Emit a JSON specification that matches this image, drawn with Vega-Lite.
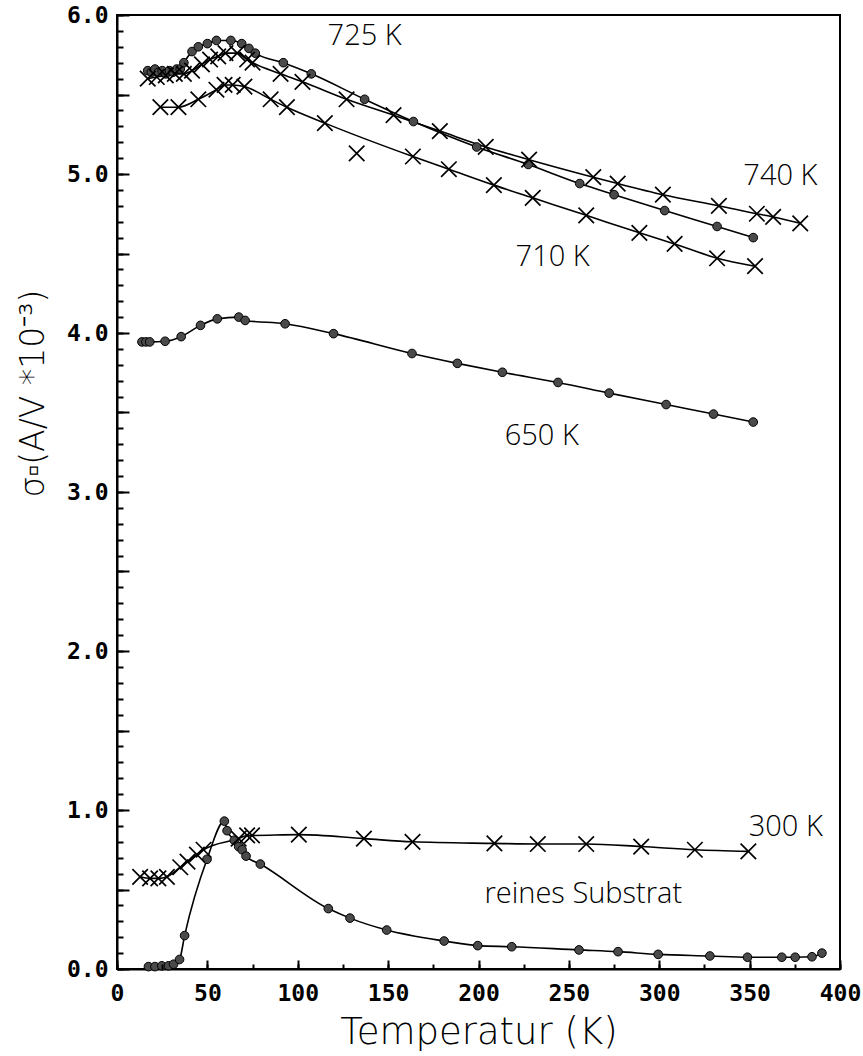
{
  "$schema": "https://vega.github.io/schema/vega-lite/v6.json",
  "width": 723,
  "height": 954,
  "autosize": {"type": "none"},
  "padding": {"left": 117, "top": 15, "right": 23, "bottom": 87},
  "background": "white",
  "config": {
    "view": {"stroke": "black", "strokeWidth": 2},
    "axis": {"grid": false, "domainColor": "black", "domainWidth": 2, "tickColor": "black", "tickWidth": 2, "labelColor": "black", "titleColor": "black", "labelOverlap": false, "labelBound": false, "labelFlush": false}
  },
  "resolve": {"axis": {"x": "independent", "y": "independent"}},
  "datasets": {
    "meas": [
      {"series": "725 K", "marker": "dot", "fit": true, "T": 17, "sigma": 5.65},
      {"series": "725 K", "marker": "dot", "fit": true, "T": 19, "sigma": 5.64},
      {"series": "725 K", "marker": "dot", "fit": true, "T": 21, "sigma": 5.66},
      {"series": "725 K", "marker": "dot", "fit": true, "T": 23, "sigma": 5.64},
      {"series": "725 K", "marker": "dot", "fit": true, "T": 25, "sigma": 5.65},
      {"series": "725 K", "marker": "dot", "fit": true, "T": 27, "sigma": 5.63},
      {"series": "725 K", "marker": "dot", "fit": true, "T": 29, "sigma": 5.65},
      {"series": "725 K", "marker": "dot", "fit": true, "T": 31, "sigma": 5.64},
      {"series": "725 K", "marker": "dot", "fit": true, "T": 33, "sigma": 5.66},
      {"series": "725 K", "marker": "dot", "fit": true, "T": 35, "sigma": 5.66},
      {"series": "725 K", "marker": "dot", "fit": true, "T": 37, "sigma": 5.70},
      {"series": "725 K", "marker": "dot", "fit": true, "T": 41.5, "sigma": 5.77},
      {"series": "725 K", "marker": "dot", "fit": true, "T": 45, "sigma": 5.80},
      {"series": "725 K", "marker": "dot", "fit": true, "T": 50, "sigma": 5.82},
      {"series": "725 K", "marker": "dot", "fit": true, "T": 55, "sigma": 5.84},
      {"series": "725 K", "marker": "dot", "fit": true, "T": 63, "sigma": 5.84},
      {"series": "725 K", "marker": "dot", "fit": true, "T": 69, "sigma": 5.82},
      {"series": "725 K", "marker": "dot", "fit": true, "T": 73, "sigma": 5.79},
      {"series": "725 K", "marker": "dot", "fit": true, "T": 76.5, "sigma": 5.76},
      {"series": "725 K", "marker": "dot", "fit": true, "T": 92, "sigma": 5.70},
      {"series": "725 K", "marker": "dot", "fit": true, "T": 107.5, "sigma": 5.63},
      {"series": "725 K", "marker": "dot", "fit": true, "T": 137, "sigma": 5.47},
      {"series": "725 K", "marker": "dot", "fit": true, "T": 164, "sigma": 5.33},
      {"series": "725 K", "marker": "dot", "fit": true, "T": 199, "sigma": 5.17},
      {"series": "725 K", "marker": "dot", "fit": true, "T": 227.5, "sigma": 5.06},
      {"series": "725 K", "marker": "dot", "fit": true, "T": 256, "sigma": 4.94},
      {"series": "725 K", "marker": "dot", "fit": true, "T": 275, "sigma": 4.87},
      {"series": "725 K", "marker": "dot", "fit": true, "T": 303, "sigma": 4.77},
      {"series": "725 K", "marker": "dot", "fit": true, "T": 332, "sigma": 4.67},
      {"series": "725 K", "marker": "dot", "fit": true, "T": 352, "sigma": 4.60},

      {"series": "740 K", "marker": "x", "fit": true, "T": 17, "sigma": 5.60},
      {"series": "740 K", "marker": "x", "fit": true, "T": 22, "sigma": 5.61},
      {"series": "740 K", "marker": "x", "fit": true, "T": 27, "sigma": 5.62},
      {"series": "740 K", "marker": "x", "fit": true, "T": 32, "sigma": 5.63},
      {"series": "740 K", "marker": "x", "fit": true, "T": 37, "sigma": 5.63},
      {"series": "740 K", "marker": "x", "fit": true, "T": 41.5, "sigma": 5.65},
      {"series": "740 K", "marker": "x", "fit": true, "T": 47, "sigma": 5.69},
      {"series": "740 K", "marker": "x", "fit": true, "T": 51.5, "sigma": 5.72},
      {"series": "740 K", "marker": "x", "fit": true, "T": 56, "sigma": 5.74},
      {"series": "740 K", "marker": "x", "fit": true, "T": 60, "sigma": 5.76},
      {"series": "740 K", "marker": "x", "fit": true, "T": 66.5, "sigma": 5.76},
      {"series": "740 K", "marker": "x", "fit": true, "T": 72, "sigma": 5.72},
      {"series": "740 K", "marker": "x", "fit": true, "T": 75, "sigma": 5.70},
      {"series": "740 K", "marker": "x", "fit": true, "T": 90.5, "sigma": 5.63},
      {"series": "740 K", "marker": "x", "fit": true, "T": 102.6, "sigma": 5.58},
      {"series": "740 K", "marker": "x", "fit": true, "T": 127, "sigma": 5.47},
      {"series": "740 K", "marker": "x", "fit": true, "T": 153, "sigma": 5.37},
      {"series": "740 K", "marker": "x", "fit": true, "T": 178.6, "sigma": 5.27},
      {"series": "740 K", "marker": "x", "fit": true, "T": 204, "sigma": 5.17},
      {"series": "740 K", "marker": "x", "fit": true, "T": 228, "sigma": 5.09},
      {"series": "740 K", "marker": "x", "fit": true, "T": 263.5, "sigma": 4.98},
      {"series": "740 K", "marker": "x", "fit": true, "T": 277, "sigma": 4.94},
      {"series": "740 K", "marker": "x", "fit": true, "T": 302, "sigma": 4.87},
      {"series": "740 K", "marker": "x", "fit": true, "T": 333, "sigma": 4.80},
      {"series": "740 K", "marker": "x", "fit": true, "T": 354, "sigma": 4.75},
      {"series": "740 K", "marker": "x", "fit": true, "T": 363, "sigma": 4.73},
      {"series": "740 K", "marker": "x", "fit": true, "T": 378, "sigma": 4.69},

      {"series": "710 K", "marker": "x", "fit": true, "T": 24, "sigma": 5.42},
      {"series": "710 K", "marker": "x", "fit": true, "T": 34, "sigma": 5.42},
      {"series": "710 K", "marker": "x", "fit": true, "T": 45, "sigma": 5.47},
      {"series": "710 K", "marker": "x", "fit": true, "T": 55, "sigma": 5.53},
      {"series": "710 K", "marker": "x", "fit": true, "T": 59.5, "sigma": 5.56},
      {"series": "710 K", "marker": "x", "fit": true, "T": 64, "sigma": 5.56},
      {"series": "710 K", "marker": "x", "fit": true, "T": 70.5, "sigma": 5.55},
      {"series": "710 K", "marker": "x", "fit": true, "T": 85, "sigma": 5.47},
      {"series": "710 K", "marker": "x", "fit": true, "T": 94, "sigma": 5.42},
      {"series": "710 K", "marker": "x", "fit": true, "T": 115, "sigma": 5.32},
      {"series": "710 K", "marker": "x", "fit": false, "T": 132.6, "sigma": 5.13},
      {"series": "710 K", "marker": "x", "fit": true, "T": 163.7, "sigma": 5.11},
      {"series": "710 K", "marker": "x", "fit": true, "T": 183.6, "sigma": 5.03},
      {"series": "710 K", "marker": "x", "fit": true, "T": 208.5, "sigma": 4.93},
      {"series": "710 K", "marker": "x", "fit": true, "T": 230, "sigma": 4.85},
      {"series": "710 K", "marker": "x", "fit": true, "T": 259.6, "sigma": 4.74},
      {"series": "710 K", "marker": "x", "fit": true, "T": 289, "sigma": 4.63},
      {"series": "710 K", "marker": "x", "fit": true, "T": 308.5, "sigma": 4.56},
      {"series": "710 K", "marker": "x", "fit": true, "T": 332, "sigma": 4.47},
      {"series": "710 K", "marker": "x", "fit": true, "T": 353, "sigma": 4.42},

      {"series": "650 K", "marker": "dot", "fit": true, "T": 13.8, "sigma": 3.944},
      {"series": "650 K", "marker": "dot", "fit": true, "T": 16, "sigma": 3.944},
      {"series": "650 K", "marker": "dot", "fit": true, "T": 18.1, "sigma": 3.944},
      {"series": "650 K", "marker": "dot", "fit": true, "T": 26.6, "sigma": 3.948},
      {"series": "650 K", "marker": "dot", "fit": true, "T": 35.5, "sigma": 3.977},
      {"series": "650 K", "marker": "dot", "fit": true, "T": 46.2, "sigma": 4.048},
      {"series": "650 K", "marker": "dot", "fit": true, "T": 55.5, "sigma": 4.089},
      {"series": "650 K", "marker": "dot", "fit": true, "T": 67.4, "sigma": 4.10},
      {"series": "650 K", "marker": "dot", "fit": true, "T": 70.9, "sigma": 4.079},
      {"series": "650 K", "marker": "dot", "fit": true, "T": 93, "sigma": 4.058},
      {"series": "650 K", "marker": "dot", "fit": true, "T": 119.8, "sigma": 3.996},
      {"series": "650 K", "marker": "dot", "fit": true, "T": 163.2, "sigma": 3.871},
      {"series": "650 K", "marker": "dot", "fit": true, "T": 188.3, "sigma": 3.809},
      {"series": "650 K", "marker": "dot", "fit": true, "T": 213.2, "sigma": 3.753},
      {"series": "650 K", "marker": "dot", "fit": true, "T": 244, "sigma": 3.689},
      {"series": "650 K", "marker": "dot", "fit": true, "T": 272.3, "sigma": 3.622},
      {"series": "650 K", "marker": "dot", "fit": true, "T": 303.8, "sigma": 3.55},
      {"series": "650 K", "marker": "dot", "fit": true, "T": 330, "sigma": 3.49},
      {"series": "650 K", "marker": "dot", "fit": true, "T": 352, "sigma": 3.44},

      {"series": "300 K", "marker": "x", "fit": true, "T": 12.8, "sigma": 0.58},
      {"series": "300 K", "marker": "x", "fit": true, "T": 18.3, "sigma": 0.57},
      {"series": "300 K", "marker": "x", "fit": true, "T": 22.9, "sigma": 0.57},
      {"series": "300 K", "marker": "x", "fit": true, "T": 27.6, "sigma": 0.58},
      {"series": "300 K", "marker": "x", "fit": true, "T": 35, "sigma": 0.64},
      {"series": "300 K", "marker": "x", "fit": true, "T": 39, "sigma": 0.675},
      {"series": "300 K", "marker": "x", "fit": true, "T": 44.2, "sigma": 0.72},
      {"series": "300 K", "marker": "x", "fit": true, "T": 47.9, "sigma": 0.75},
      {"series": "300 K", "marker": "x", "fit": true, "T": 67.3, "sigma": 0.82},
      {"series": "300 K", "marker": "x", "fit": true, "T": 72, "sigma": 0.84},
      {"series": "300 K", "marker": "x", "fit": true, "T": 74.7, "sigma": 0.84},
      {"series": "300 K", "marker": "x", "fit": true, "T": 100.6, "sigma": 0.845},
      {"series": "300 K", "marker": "x", "fit": true, "T": 136.6, "sigma": 0.82},
      {"series": "300 K", "marker": "x", "fit": true, "T": 163.5, "sigma": 0.80},
      {"series": "300 K", "marker": "x", "fit": true, "T": 208.8, "sigma": 0.79},
      {"series": "300 K", "marker": "x", "fit": true, "T": 232.8, "sigma": 0.786},
      {"series": "300 K", "marker": "x", "fit": true, "T": 259.6, "sigma": 0.786},
      {"series": "300 K", "marker": "x", "fit": true, "T": 290, "sigma": 0.77},
      {"series": "300 K", "marker": "x", "fit": true, "T": 319.7, "sigma": 0.75},
      {"series": "300 K", "marker": "x", "fit": true, "T": 349.3, "sigma": 0.74},

      {"series": "Substrat", "marker": "dot", "fit": true, "T": 17.4, "sigma": 0.015},
      {"series": "Substrat", "marker": "dot", "fit": true, "T": 21, "sigma": 0.015},
      {"series": "Substrat", "marker": "dot", "fit": true, "T": 24.8, "sigma": 0.02},
      {"series": "Substrat", "marker": "dot", "fit": true, "T": 28.5, "sigma": 0.02},
      {"series": "Substrat", "marker": "dot", "fit": true, "T": 31.3, "sigma": 0.03},
      {"series": "Substrat", "marker": "dot", "fit": true, "T": 34.6, "sigma": 0.06},
      {"series": "Substrat", "marker": "dot", "fit": true, "T": 37.4, "sigma": 0.21},
      {"series": "Substrat", "marker": "dot", "fit": true, "T": 49.8, "sigma": 0.69},
      {"series": "Substrat", "marker": "dot", "fit": true, "T": 59.4, "sigma": 0.93},
      {"series": "Substrat", "marker": "dot", "fit": true, "T": 60.9, "sigma": 0.87},
      {"series": "Substrat", "marker": "dot", "fit": true, "T": 64.9, "sigma": 0.81},
      {"series": "Substrat", "marker": "dot", "fit": true, "T": 67.3, "sigma": 0.77},
      {"series": "Substrat", "marker": "dot", "fit": true, "T": 69.2, "sigma": 0.75},
      {"series": "Substrat", "marker": "dot", "fit": true, "T": 71.4, "sigma": 0.71},
      {"series": "Substrat", "marker": "dot", "fit": true, "T": 79.3, "sigma": 0.66},
      {"series": "Substrat", "marker": "dot", "fit": true, "T": 116.9, "sigma": 0.38},
      {"series": "Substrat", "marker": "dot", "fit": true, "T": 128.9, "sigma": 0.32},
      {"series": "Substrat", "marker": "dot", "fit": true, "T": 149.2, "sigma": 0.245},
      {"series": "Substrat", "marker": "dot", "fit": true, "T": 181, "sigma": 0.176},
      {"series": "Substrat", "marker": "dot", "fit": true, "T": 199.6, "sigma": 0.147},
      {"series": "Substrat", "marker": "dot", "fit": true, "T": 218.4, "sigma": 0.14},
      {"series": "Substrat", "marker": "dot", "fit": true, "T": 255.6, "sigma": 0.12},
      {"series": "Substrat", "marker": "dot", "fit": true, "T": 277.2, "sigma": 0.109},
      {"series": "Substrat", "marker": "dot", "fit": true, "T": 299.4, "sigma": 0.092},
      {"series": "Substrat", "marker": "dot", "fit": true, "T": 328, "sigma": 0.082},
      {"series": "Substrat", "marker": "dot", "fit": true, "T": 348.8, "sigma": 0.074},
      {"series": "Substrat", "marker": "dot", "fit": true, "T": 367.8, "sigma": 0.074},
      {"series": "Substrat", "marker": "dot", "fit": true, "T": 375.2, "sigma": 0.074},
      {"series": "Substrat", "marker": "dot", "fit": true, "T": 384.5, "sigma": 0.077},
      {"series": "Substrat", "marker": "dot", "fit": true, "T": 390, "sigma": 0.10}
    ],
    "notes": [
      {"label": "725 K", "T": 137, "sigma": 5.87},
      {"label": "740 K", "T": 367, "sigma": 4.99},
      {"label": "710 K", "T": 241, "sigma": 4.48},
      {"label": "650 K", "T": 235, "sigma": 3.35},
      {"label": "300 K", "T": 370, "sigma": 0.89},
      {"label": "reines Substrat", "T": 258, "sigma": 0.47}
    ]
  },
  "layer": [
    {
      "data": {"name": "meas"},
      "transform": [{"filter": "datum.fit"}],
      "mark": {"type": "line", "interpolate": "monotone", "color": "black", "strokeWidth": 1.6},
      "encoding": {
        "x": {
          "field": "T",
          "type": "quantitative",
          "scale": {"domain": [0, 400], "nice": false, "zero": false},
          "axis": {
            "orient": "bottom",
            "values": [0, 50, 100, 150, 200, 250, 300, 350, 400],
            "ticks": false,
            "labelPadding": 13,
            "labelFont": "DejaVu Sans Mono",
            "labelFontSize": 23,
            "labelFontWeight": "bold",
            "title": "Temperatur (K)",
            "titleFont": "DejaVu Sans",
            "titleFontSize": 37,
            "titleFontWeight": 200,
            "titleBaseline": "middle",
            "titleY": 63
          }
        },
        "y": {
          "field": "sigma",
          "type": "quantitative",
          "scale": {"domain": [0, 6], "nice": false, "zero": false},
          "axis": {
            "orient": "left",
            "values": [0, 1, 2, 3, 4, 5, 6],
            "format": ".1f",
            "ticks": false,
            "labelPadding": 9,
            "labelFont": "DejaVu Sans Mono",
            "labelFontSize": 23,
            "labelFontWeight": "bold",
            "title": "σ▫(A/V *10⁻³)",
            "titleFont": "DejaVu Sans",
            "titleFontSize": 33,
            "titleFontWeight": 200,
            "titleBaseline": "middle",
            "titleAlign": "center",
            "titleX": -84,
            "titleY": 378
          }
        },
        "detail": {"field": "series"}
      }
    },
    {
      "data": {"name": "meas"},
      "transform": [{"filter": "datum.marker === 'dot'"}],
      "mark": {"type": "point", "shape": "circle", "filled": true, "fill": "#4a4a4a", "stroke": "black", "strokeWidth": 1, "size": 75, "opacity": 1},
      "encoding": {
        "x": {
          "field": "T",
          "type": "quantitative",
          "axis": {
            "orient": "top",
            "offset": -954,
            "zindex": 2,
            "values": [0, 25, 50, 75, 100, 125, 150, 175, 200, 225, 250, 275, 300, 325, 350, 375, 400],
            "labels": false,
            "domain": false,
            "title": null,
            "ticks": true,
            "tickSize": 5,
            "tickColor": "black",
            "tickWidth": 2
          }
        },
        "y": {
          "field": "sigma",
          "type": "quantitative",
          "axis": {
            "orient": "right",
            "offset": -723,
            "zindex": 2,
            "values": [0, 0.1, 0.2, 0.3, 0.4, 0.5, 0.6, 0.7, 0.8, 0.9, 1, 1.1, 1.2, 1.3, 1.4, 1.5, 1.6, 1.7, 1.8, 1.9, 2, 2.1, 2.2, 2.3, 2.4, 2.5, 2.6, 2.7, 2.8, 2.9, 3, 3.1, 3.2, 3.3, 3.4, 3.5, 3.6, 3.7, 3.8, 3.9, 4, 4.1, 4.2, 4.3, 4.4, 4.5, 4.6, 4.7, 4.8, 4.9, 5, 5.1, 5.2, 5.3, 5.4, 5.5, 5.6, 5.7, 5.8, 5.9, 6],
            "labels": false,
            "domain": false,
            "title": null,
            "ticks": true,
            "tickSize": 6,
            "tickColor": "black",
            "tickWidth": 2
          }
        }
      }
    },
    {
      "data": {"name": "meas"},
      "transform": [{"filter": "datum.marker === 'x'"}],
      "mark": {"type": "point", "shape": "M-1,-1L1,1M-1,1L1,-1", "filled": false, "stroke": "black", "strokeWidth": 1.7, "size": 240, "opacity": 1},
      "encoding": {
        "x": {
          "field": "T",
          "type": "quantitative",
          "axis": {
            "orient": "top",
            "offset": -954,
            "zindex": 2,
            "values": [0, 50, 100, 150, 200, 250, 300, 350, 400],
            "labels": false,
            "domain": false,
            "title": null,
            "ticks": true,
            "tickSize": 9,
            "tickColor": "black",
            "tickWidth": 2
          }
        },
        "y": {
          "field": "sigma",
          "type": "quantitative",
          "axis": {
            "orient": "right",
            "offset": -723,
            "zindex": 2,
            "values": [0, 0.5, 1, 1.5, 2, 2.5, 3, 3.5, 4, 4.5, 5, 5.5, 6],
            "labels": false,
            "domain": false,
            "title": null,
            "ticks": true,
            "tickSize": 12,
            "tickColor": "black",
            "tickWidth": 2
          }
        }
      }
    },
    {
      "data": {"name": "notes"},
      "mark": {"type": "text", "font": "Open Sans", "fontWeight": 300, "fontSize": 29, "align": "center", "baseline": "middle", "color": "black"},
      "encoding": {
        "x": {"field": "T", "type": "quantitative", "axis": null},
        "y": {"field": "sigma", "type": "quantitative", "axis": null},
        "text": {"field": "label"}
      }
    }
  ]
}
